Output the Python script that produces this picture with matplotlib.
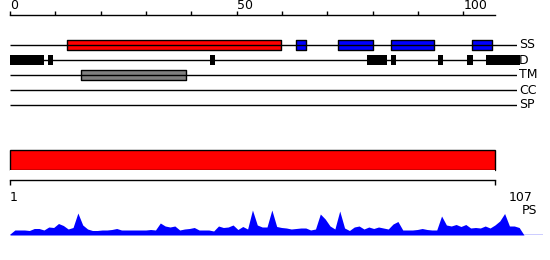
import numpy as np
import matplotlib
matplotlib.use("Agg")
from matplotlib import pyplot as plt

plt.rcParams["font.family"] = ["Liberation Sans Narrow", "DejaVu Sans"]

# data
seq_len = 107
scale_ticks = list(range(0, 101, 10))
scale_labels = ["0", "", "", "", "", "50", "", "", "", "", "100"]

tracks = ["SS", "D", "TM", "CC", "SP"]
ss_helix = [(12.0, 45.2)]
ss_strand = [(60.3, 2.1), (69.2, 7.4), (80.4, 9.1), (97.5, 4.2)]
disorder = [(0.0, 7.2), (8.0, 1.1), (42.2, 1.0), (75.3, 4.2), (80.4, 1.0),
            (90.3, 1.1), (96.4, 1.3), (100.4, 7.2)]
tm = [(15.0, 22.1)]

ps = [1, 5, 5, 5, 4.5, 6.5, 6.5, 5, 8, 7.5,
      11.5, 9.5, 6, 7.5, 22, 10, 6, 4.5, 4.5, 5,
      5, 5.5, 6.5, 5, 5, 5, 5, 5, 5, 5.5,
      5, 12, 9, 8, 9, 5, 6, 6.5, 7.5, 5,
      5, 5, 4, 9, 7.5, 8, 10, 5.5, 8.5, 6,
      25, 10, 8, 8, 25, 8.5, 7.5, 7, 6, 6.5,
      7, 7, 5, 6, 21, 16, 9, 6, 24, 7,
      4.5, 8, 9, 6, 8, 6.5, 8, 7, 6, 11,
      13.5, 5, 5, 5, 5.5, 6.5, 5.5, 5, 5, 19,
      10, 9, 10.5, 8.5, 10.5, 7, 7.5, 7, 9, 7,
      10, 14, 21.5, 9, 9, 7.5, 0]
residues = np.arange(1, len(ps) + 1)

W, H = 550, 260
fig = plt.figure(figsize=(W / 100, H / 100), dpi=100)


def rect(x0, y0, x1, y1):
    return [x0 / W, 1 - y1 / H, (x1 - x0) / W, (y1 - y0) / H]


# top ruler
ax0 = fig.add_axes(rect(10, 15, 495, 25))
ax0.set_xlim(0, seq_len)
for s in ["left", "right", "bottom"]:
    ax0.spines[s].set_visible(False)
ax0.spines["top"].set_linewidth(1)
ax0.xaxis.tick_top()
ax0.set_xticks(scale_ticks)
ax0.set_xticklabels(scale_labels, fontsize=9, ha="left", va="baseline")
ax0.tick_params(axis="x", direction="out", length=3, width=1, pad=1)
ax0.set_yticks([])

# feature tracks
ax1 = fig.add_axes(rect(10, 37.5, 517, 112.5))
ax1.set_xlim(0, seq_len)
ax1.set_ylim(len(tracks) - 0.5, -0.5)
ax1.axis("off")
ax1.hlines(range(len(tracks)), 0, seq_len, color="black", lw=1)
ax1.broken_barh(ss_helix, (-0.333, 0.667), facecolor="#ff0000", edgecolor="black", lw=1)
ax1.broken_barh(ss_strand, (-0.333, 0.667), facecolor="#0000ff", edgecolor="black", lw=1)
ax1.broken_barh(disorder, (1 - 0.36, 0.72), facecolor="black", edgecolor="none", clip_on=False)
ax1.broken_barh(tm, (2 - 0.333, 0.667), facecolor="#808080", edgecolor="black", lw=1)
for i, name in enumerate(tracks):
    ax1.text(1.004, i, name, transform=ax1.get_yaxis_transform(), fontsize=9,
             ha="left", va="center")

# full-length bar
ax2 = fig.add_axes(rect(10, 150, 495, 170))
ax2.set_xlim(1, seq_len)
ax2.set_ylim(0, 1)
ax2.axis("off")
ax2.barh(0.5, seq_len - 1, left=1, height=1, color="#ff0000", edgecolor="black",
         lw=1, clip_on=False)

# residue ruler
ax3 = fig.add_axes(rect(10, 170, 495, 180))
ax3.set_xlim(1, seq_len)
for s in ["left", "right", "top"]:
    ax3.spines[s].set_visible(False)
ax3.spines["bottom"].set_linewidth(1)
ax3.set_xticks([1, seq_len])
ax3.set_xticklabels([])
ax3.tick_params(axis="x", direction="out", length=3.6, width=1)
ax3.set_yticks([])
fig.text(10 / W, 1 - 191 / H, "1", fontsize=9, ha="left", va="top")
fig.text(509 / W, 1 - 191 / H, str(seq_len), fontsize=9, ha="left", va="top")

# PS profile
px_per = (524 - 10) / (seq_len - 1)
ax4 = fig.add_axes(rect(10, 205, 543, 235))
ax4.set_xlim(1, 1 + (543 - 10) / px_per)
ax4.set_ylim(0, 30)
ax4.axis("off")
ax4.fill_between(residues, 0, ps, color="#0000ff", lw=0)
ax4.axhline(0, color="#0000ff", lw=1)
fig.text(522 / W, 1 - 211 / H, "PS", fontsize=9, ha="left", va="center")

fig.savefig("out.png", dpi=100)
